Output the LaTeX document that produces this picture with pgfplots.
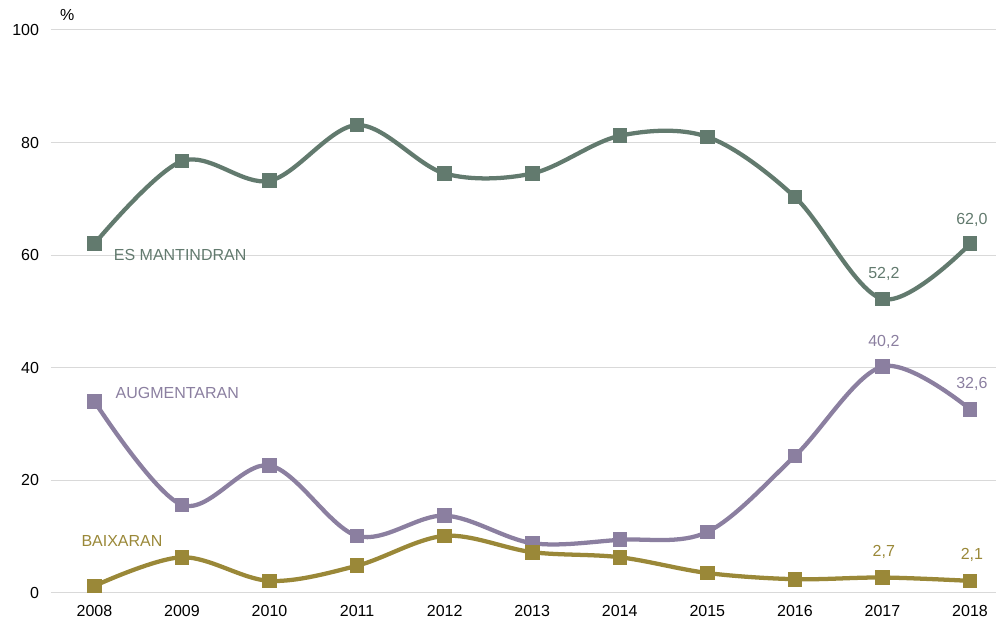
\documentclass[border=0pt]{standalone}
\usepackage{pgfplots}
\pgfplotsset{compat=1.18}
\usepackage{fontspec}
\setmainfont{Liberation Sans}
\definecolor{cgreen}{HTML}{627A6E}
\definecolor{cpurple}{HTML}{8B7FA0}
\definecolor{colive}{HTML}{9A8838}
\definecolor{cgrid}{HTML}{D9D9D9}
\begin{document}
\begin{tikzpicture}[x=1pt,y=1pt]
\begin{axis}[
  at={(0,0)}, anchor=south west,
  scale only axis, width=708.75pt, height=422.25pt,
  xmin=2007.504, xmax=2018.29, ymin=0, ymax=100,
  xtick={2008,...,2018}, ytick={0,20,...,100},
  xticklabel style={/pgf/number format/1000 sep={}},
  /pgf/number format/assume math mode=true,
  ymajorgrids, grid style={cgrid, line width=0.75pt},
  axis line style={draw=none}, tick style={draw=none},
  ticklabel style={font=\fontsize{12}{14}\selectfont, text=black},
  xticklabel style={yshift=-5.75pt},
  yticklabel style={xshift=-5.5pt},
  clip=false,
]
\addplot[cgreen, line width=3.2pt, smooth, tension=0.55, mark=square*, mark size=3.9pt, mark options={solid}] coordinates {
(2008,62.0) (2009,76.7) (2010,73.2) (2011,83.1) (2012,74.5) (2013,74.5) (2014,81.2) (2015,81.0) (2016,70.3) (2017,52.2) (2018,62.0)};
\addplot[cpurple, line width=3.2pt, smooth, tension=0.55, mark=square*, mark size=3.9pt] coordinates {
(2008,34.0) (2009,15.6) (2010,22.6) (2011,10.1) (2012,13.7) (2013,8.8) (2014,9.4) (2015,10.8) (2016,24.3) (2017,40.2) (2018,32.6)};
\addplot[colive, line width=3.2pt, smooth, tension=0.55, mark=square*, mark size=3.9pt] coordinates {
(2008,1.2) (2009,6.3) (2010,2.1) (2011,4.8) (2012,10.1) (2013,7.2) (2014,6.3) (2015,3.5) (2016,2.4) (2017,2.7) (2018,2.1)};
\begin{scope}[every node/.style={font=\fontsize{12}{14}\selectfont, inner sep=0pt}]
\node[anchor=west, text=cgreen] at (axis cs:2008.22,60.0) {ES MANTINDRAN};
\node[anchor=west, text=cpurple] at (axis cs:2008.24,35.5) {AUGMENTARAN};
\node[anchor=west, text=colive] at (axis cs:2007.85,9.1) {BAIXARAN};
\node[text=cgreen] at (axis cs:2018.02,66.3) {62,0};
\node[text=cgreen] at (axis cs:2017.015,56.7) {52,2};
\node[text=cpurple] at (axis cs:2017.015,44.6) {40,2};
\node[text=cpurple] at (axis cs:2018.02,37.1) {32,6};
\node[text=colive] at (axis cs:2017.015,7.3) {2,7};
\node[text=colive] at (axis cs:2018.02,6.7) {2,1};
\node[text=black] at (axis cs:2007.69,102.7) {\%};
\end{scope}
\end{axis}
\path[use as bounding box] (-38.25pt,-20.25pt) rectangle (708.75pt,444.75pt);
\end{tikzpicture}
\end{document}
